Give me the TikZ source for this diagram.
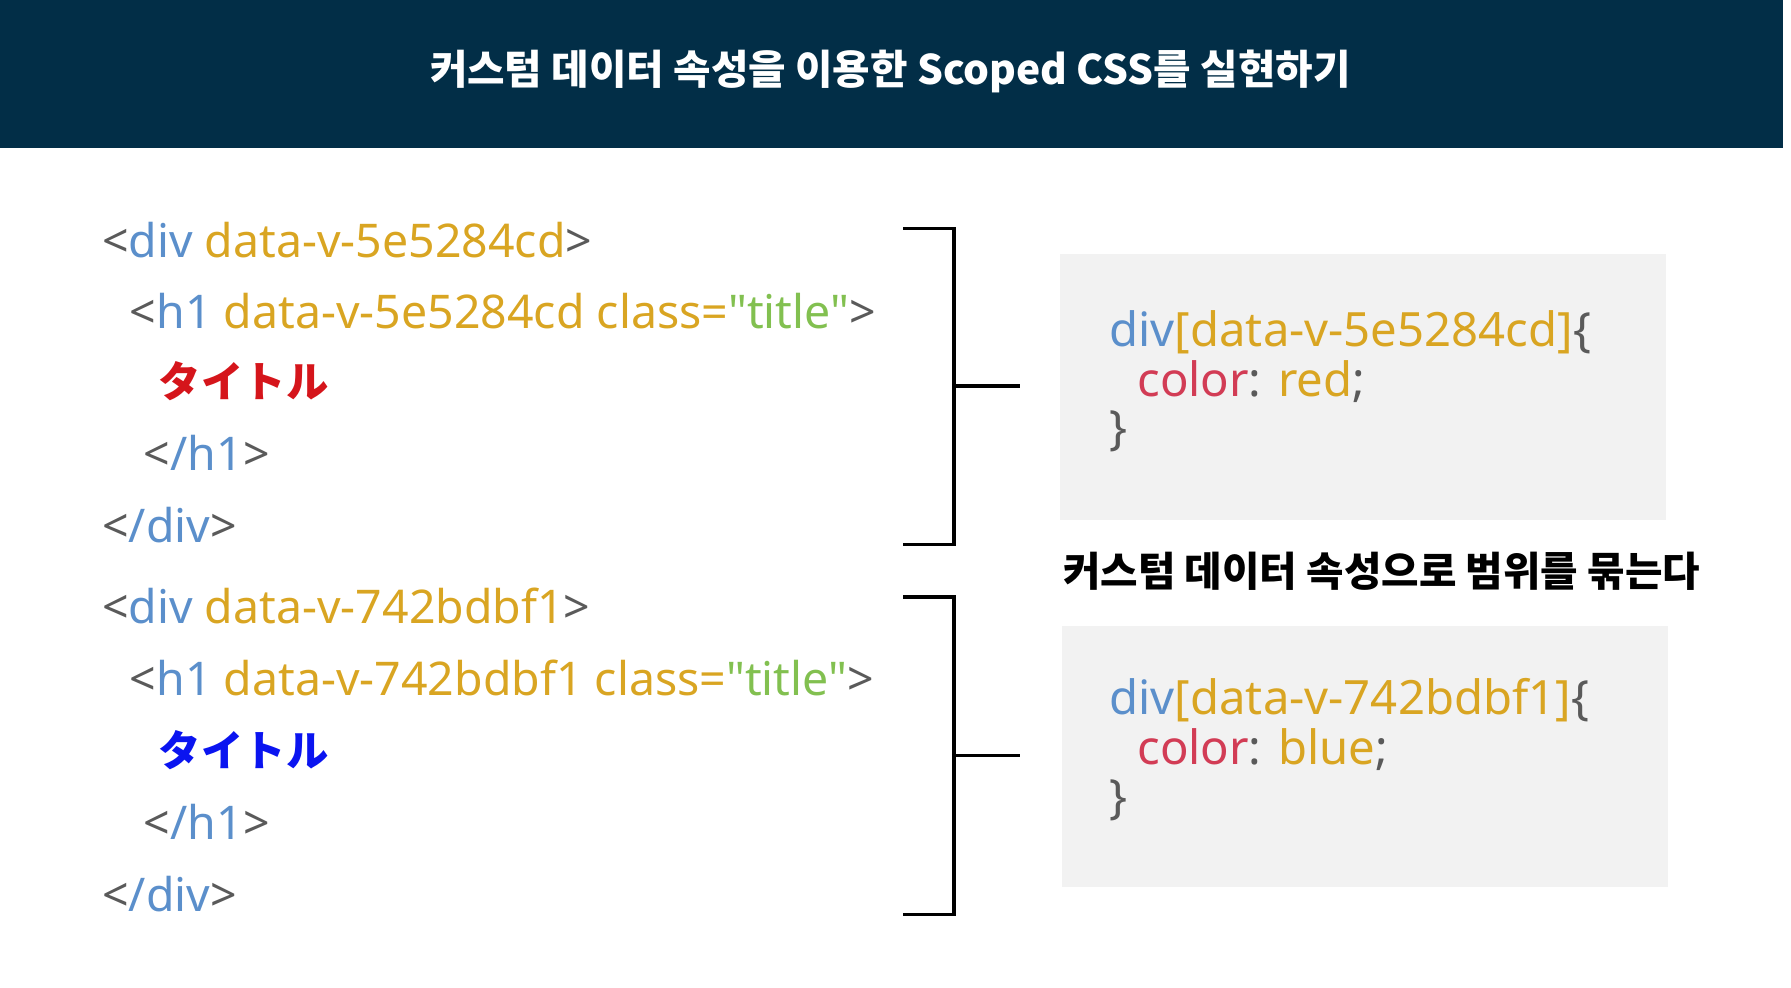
\documentclass[tikz,border=0pt]{standalone}
\usepackage{fontspec}
\setmainfont{Noto Sans}[Ligatures=NoCommon]
\newfontfamily\kr{Noto Sans CJK KR}
\newfontfamily\jp{Noto Sans CJK JP}
\definecolor{bar}{HTML}{022E47}
\definecolor{cb}{HTML}{5B8FCB}
\definecolor{cg}{HTML}{D9A522}
\definecolor{cgr}{HTML}{82C050}
\definecolor{ck}{HTML}{5A5A5A}
\definecolor{cr}{HTML}{D5151B}
\definecolor{cbl}{HTML}{0A14F0}
\definecolor{cp}{HTML}{D23C55}
\definecolor{box}{HTML}{F2F2F2}
\tikzset{code/.style={anchor=west,inner sep=0pt,font=\fontsize{57}{64}\selectfont},
 css/.style={anchor=west,inner sep=0pt,font=\fontsize{58}{64}\selectfont},
 brk/.style={line width=4pt,black}}
\newcommand{\lt}{\textcolor{ck}{<}}
\newcommand{\gtt}{\textcolor{ck}{>}}
\newcommand{\q}{\textquotedbl}
\begin{document}
\begin{tikzpicture}[x=0.05cm,y=-0.05cm]
\useasboundingbox (0,0) rectangle (1545,852);
\fill[bar] (0,0) rectangle (1538,128);
\node[text=white,font=\kr\bfseries\fontsize{50}{58}\selectfont] (title) at (768,62) {커스텀 데이터 속성을 이용한 Scoped CSS를 실현하기};
% block 1
\node[code] (a1) at (88,207) {\lt\textcolor{cb}{div} \textcolor{cg}{data-v-5e5284cd}\gtt};
\node[code] (a2) at (112,268) {\lt\textcolor{cb}{h1} \textcolor{cg}{data-v-5e5284cd class=}\textcolor{cgr}{\q title\q}\gtt};
\node[code,text=cr,font=\jp\bfseries\fontsize{52}{60}\selectfont] (a3) at (137,329) {タイトル};
\node[code] (a4) at (124,391) {\lt\textcolor{cb}{/h1}\gtt};
\node[code] (a5) at (88,453) {\lt\textcolor{cb}{/div}\gtt};
% block 2
\node[code] (b1) at (88,523) {\lt\textcolor{cb}{div} \textcolor{cg}{data-v-742bdbf1}\gtt};
\node[code] (b2) at (112,585) {\lt\textcolor{cb}{h1} \textcolor{cg}{data-v-742bdbf1 class=}\textcolor{cgr}{\q title\q}\gtt};
\node[code,text=cbl,font=\jp\bfseries\fontsize{52}{60}\selectfont] (b3) at (137,647) {タイトル};
\node[code] (b4) at (124,709) {\lt\textcolor{cb}{/h1}\gtt};
\node[code] (b5) at (88,771) {\lt\textcolor{cb}{/div}\gtt};
% brackets
\coordinate (t1) at (779,197); \coordinate (m1) at (823,333); \coordinate (e1) at (880,333);
\draw[brk] (t1) -| (823,470) -- (779,470);
\draw[brk] (m1) -- (e1);
\coordinate (t2) at (779,515); \coordinate (m2) at (823,652); \coordinate (e2) at (880,652);
\draw[brk] (t2) -| (823,789) -- (779,789);
\draw[brk] (m2) -- (e2);
% boxes
\fill[box] (914,219) rectangle (1437,449);
\fill[box] (916,540) rectangle (1439,765);
\node[css] (c1) at (957,287) {\textcolor{cb}{div}\textcolor{cg}{[data-v-5e5284cd]}\textcolor{ck}{\{}};
\node[css] (c2) at (981,329) {\textcolor{cp}{color}\textcolor{ck}{:} \textcolor{cg}{red}\textcolor{ck}{;}};
\node[css] (c3) at (957,372) {\textcolor{ck}{\}}};
\node[css] (d1) at (957,604) {\textcolor{cb}{div}\textcolor{cg}{[data-v-742bdbf1]}\textcolor{ck}{\{}};
\node[css] (d2) at (981,647) {\textcolor{cp}{color}\textcolor{ck}{:} \textcolor{cg}{blue}\textcolor{ck}{;}};
\node[css] (d3) at (957,690) {\textcolor{ck}{\}}};
\node[anchor=west,inner sep=0pt,font=\kr\bfseries\fontsize{50}{58}\selectfont] (lab) at (917,493) {커스텀 데이터 속성으로 범위를 묶는다};
\end{tikzpicture}
\end{document}
